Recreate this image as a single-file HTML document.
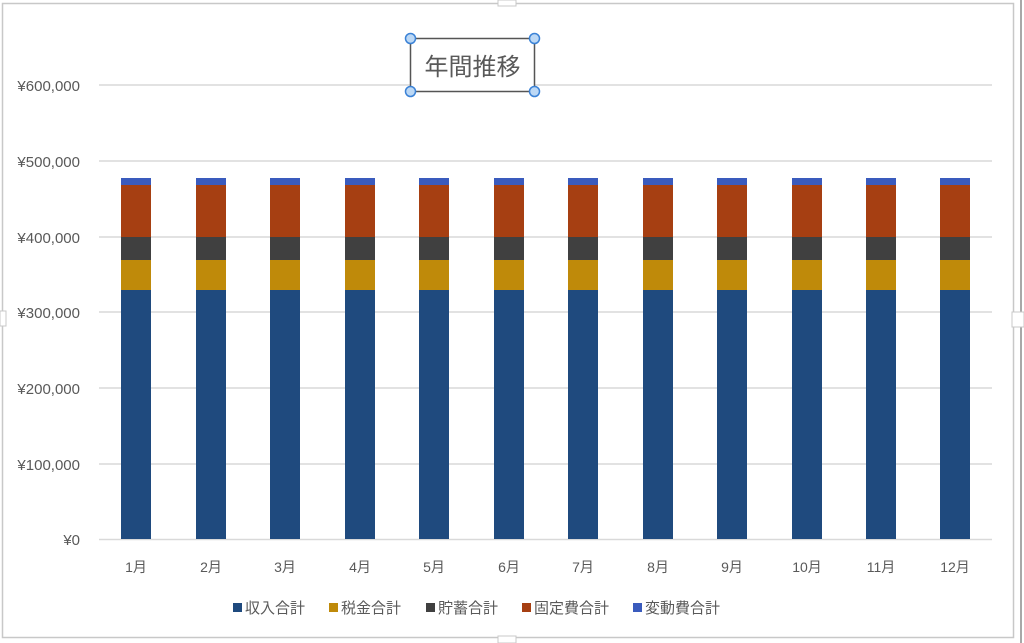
<!DOCTYPE html>
<html><head><meta charset="utf-8">
<style>
html,body{margin:0;padding:0;background:#fff;width:1024px;height:643px;overflow:hidden}
svg{display:block}
text{font-family:"Liberation Sans","Noto Sans CJK JP",sans-serif;fill:#595959}
</style></head><body>
<svg width="1024" height="643" viewBox="0 0 1024 643" xmlns="http://www.w3.org/2000/svg">
<rect x="2.5" y="3.5" width="1011" height="634" fill="none" stroke="#c8c8c8" stroke-width="1.5"/>
<line x1="1021" y1="0" x2="1021" y2="643" stroke="#a8a8a8" stroke-width="2"/>
<rect x="498" y="0" width="18" height="6" fill="#fff" stroke="#c8c8c8"/>
<rect x="498" y="636" width="18" height="7" fill="#fff" stroke="#c8c8c8"/>
<rect x="0" y="311" width="6" height="15" fill="#fff" stroke="#c8c8c8"/>
<rect x="1012" y="312" width="12" height="15" fill="#fff" stroke="#c8c8c8"/>
<g stroke="#d9d9d9" stroke-width="1.5">
<line x1="99" y1="85" x2="992" y2="85"/>
<line x1="99" y1="161" x2="992" y2="161"/>
<line x1="99" y1="237" x2="992" y2="237"/>
<line x1="99" y1="312" x2="992" y2="312"/>
<line x1="99" y1="388" x2="992" y2="388"/>
<line x1="99" y1="464" x2="992" y2="464"/>
<line x1="99" y1="539.5" x2="992" y2="539.5"/>
</g>
<g font-size="15" text-anchor="end">
<text x="80" y="91">¥600,000</text>
<text x="80" y="167">¥500,000</text>
<text x="80" y="243">¥400,000</text>
<text x="80" y="318">¥300,000</text>
<text x="80" y="394">¥200,000</text>
<text x="80" y="470">¥100,000</text>
<text x="80" y="545">¥0</text>
</g>
<defs>
<g id="bar">
<rect x="0" y="178" width="30" height="7" fill="#3a5bbd"/>
<rect x="0" y="185" width="30" height="52" fill="#a63f12"/>
<rect x="0" y="237" width="30" height="23" fill="#404040"/>
<rect x="0" y="260" width="30" height="30" fill="#bf8a0a"/>
<rect x="0" y="290" width="30" height="249" fill="#1f4a7e"/>
</g>
</defs>
<use href="#bar" x="121"/><use href="#bar" x="196"/><use href="#bar" x="270"/><use href="#bar" x="345"/>
<use href="#bar" x="419"/><use href="#bar" x="494"/><use href="#bar" x="568"/><use href="#bar" x="643"/>
<use href="#bar" x="717"/><use href="#bar" x="792"/><use href="#bar" x="866"/><use href="#bar" x="940"/>
<g font-size="14" text-anchor="middle">
<text x="136" y="572">1月</text><text x="211" y="572">2月</text><text x="285" y="572">3月</text><text x="360" y="572">4月</text>
<text x="434" y="572">5月</text><text x="509" y="572">6月</text><text x="583" y="572">7月</text><text x="658" y="572">8月</text>
<text x="732" y="572">9月</text><text x="807" y="572">10月</text><text x="881" y="572">11月</text><text x="955" y="572">12月</text>
</g>
<g font-size="15">
<rect x="233" y="603" width="9" height="9" fill="#1f4a7e"/><text x="245" y="613">収入合計</text>
<rect x="329" y="603" width="9" height="9" fill="#bf8a0a"/><text x="341" y="613">税金合計</text>
<rect x="426" y="603" width="9" height="9" fill="#404040"/><text x="438" y="613">貯蓄合計</text>
<rect x="522" y="603" width="9" height="9" fill="#a63f12"/><text x="534" y="613">固定費合計</text>
<rect x="633" y="603" width="9" height="9" fill="#3a5bbd"/><text x="645" y="613">変動費合計</text>
</g>
<rect x="410.5" y="38.5" width="124" height="53" fill="#fff" stroke="#555" stroke-width="1.5"/>
<text x="472.5" y="75" font-size="24" text-anchor="middle">年間推移</text>
<g fill="#bcd8f5" stroke="#3b82d6" stroke-width="1.5">
<circle cx="410.5" cy="38.5" r="5"/><circle cx="534.5" cy="38.5" r="5"/>
<circle cx="410.5" cy="91.5" r="5"/><circle cx="534.5" cy="91.5" r="5"/>
</g>
</svg>
</body></html>
